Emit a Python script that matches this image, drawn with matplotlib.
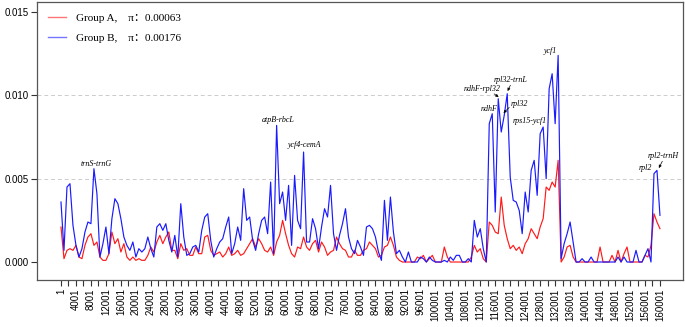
import matplotlib
matplotlib.use("Agg")
import matplotlib.pyplot as plt
from matplotlib.lines import Line2D
import numpy as np

plt.rcParams["font.family"] = ["Liberation Sans", "DejaVu Sans"]

# sliding windows (window start, bp), step 800
window_step = 800
windows = np.arange(1, 160002, window_step)

# nucleotide diversity, Group B (blue)
pi_group_b = [
    0.0036, 0.0007, 0.0045, 0.0047, 0.0022, 0.0010, 0.0003, 0.0008, 0.0018, 0.0024,
    0.0023, 0.0056, 0.0041, 0.0003, 0.0011, 0.0021, 0.0005, 0.0026, 0.0038, 0.0035,
    0.0026, 0.0015, 0.0010, 0.0007, 0.0012, 0.0003, 0.0008, 0.0006, 0.0008, 0.0015,
    0.0008, 0.0003, 0.0021, 0.0023, 0.0019, 0.0023, 0.0013, 0.0006, 0.0016, 0.0003,
    0.0035, 0.0015, 0.0004, 0.0005,
    0.0009, 0.0010, 0.0006, 0.0019, 0.0027, 0.0029, 0.0013, 0.0003, 0.0008, 0.0012,
    0.0014, 0.0021, 0.0027, 0.0005, 0.0011, 0.0021, 0.0013, 0.0044, 0.0025, 0.0027,
    0.0013, 0.0007, 0.0017, 0.0025, 0.0027, 0.0017, 0.0048, 0.0005, 0.0082, 0.0035,
    0.0042, 0.0025, 0.0046, 0.0010, 0.0052, 0.0025, 0.0020, 0.0066, 0.0012, 0.0012,
    0.0026, 0.0020, 0.0008,
    0.0021, 0.0032, 0.0027, 0.0046, 0.0017, 0.0007, 0.0016, 0.0023, 0.0032, 0.0015,
    0.0008, 0.0005, 0.0013, 0.0009, 0.0004, 0.0021, 0.0022, 0.0020, 0.0015, 0.0006,
    0.0001, 0.0037, 0.0013, 0.0039, 0.0018, 0.0005, 0.0007, 0.0003, 0.0000, 0.0006,
    0.0000, 0.0000, 0.0000, 0.0003, 0.0002, 0.0000, 0.0003, 0.0001, 0.0000, 0.0000,
    0.0000, 0.0001, 0.0000,
    0.0003, 0.0001, 0.0004, 0.0004, 0.0000, 0.0000, 0.0002, 0.0000, 0.0025, 0.0015,
    0.0020, 0.0008, 0.0000, 0.0083, 0.0089, 0.0030, 0.0098, 0.0078, 0.0088, 0.0101,
    0.0051, 0.0037, 0.0036, 0.0031, 0.0017, 0.0042, 0.0030, 0.0055, 0.0061, 0.0040,
    0.0077, 0.0081, 0.0050, 0.0104, 0.0113, 0.0083, 0.0124, 0.0002, 0.0011, 0.0017,
    0.0024, 0.0012, 0.0000, 0.0000, 0.0002, 0.0000, 0.0000, 0.0003, 0.0000, 0.0000,
    0.0000, 0.0000, 0.0000, 0.0000, 0.0000, 0.0000, 0.0003, 0.0000, 0.0003, 0.0000,
    0.0000, 0.0000, 0.0007, 0.0000, 0.0000, 0.0004, 0.0008, 0.0000, 0.0053, 0.0055,
    0.0028,
]

# nucleotide diversity, Group A (red)
pi_group_a = [
    0.0021, 0.0002, 0.0007, 0.0008, 0.0007, 0.0010, 0.0003, 0.0002, 0.0010, 0.0015,
    0.0017, 0.0010, 0.0012, 0.0003, 0.0001, 0.0001, 0.0005, 0.0018, 0.0011, 0.0014,
    0.0006, 0.0011, 0.0003, 0.0001, 0.0003, 0.0001, 0.0002, 0.0001, 0.0001, 0.0004,
    0.0009, 0.0006, 0.0012, 0.0016, 0.0011, 0.0015, 0.0018, 0.0007, 0.0007, 0.0002,
    0.0011, 0.0007, 0.0008, 0.0004,
    0.0004, 0.0009, 0.0005, 0.0005, 0.0015, 0.0016, 0.0007, 0.0004, 0.0005, 0.0006,
    0.0003, 0.0005, 0.0009, 0.0004, 0.0005, 0.0007, 0.0004, 0.0005, 0.0008, 0.0011,
    0.0014, 0.0009, 0.0014, 0.0011, 0.0007, 0.0006, 0.0009, 0.0004, 0.0012, 0.0016,
    0.0025, 0.0017, 0.0010, 0.0005, 0.0003, 0.0009, 0.0008, 0.0015, 0.0009, 0.0007,
    0.0011, 0.0013, 0.0006,
    0.0012, 0.0009, 0.0004, 0.0006, 0.0007, 0.0015, 0.0011, 0.0008, 0.0007, 0.0003,
    0.0003, 0.0007, 0.0004, 0.0004, 0.0007, 0.0008, 0.0012, 0.0010, 0.0008, 0.0003,
    0.0004, 0.0009, 0.0010, 0.0015, 0.0010, 0.0003, 0.0001, 0.0000, 0.0000, 0.0000,
    0.0000, 0.0000, 0.0003, 0.0002, 0.0004, 0.0000, 0.0002, 0.0004, 0.0000, 0.0000,
    0.0000, 0.0009, 0.0003,
    0.0000, 0.0000, 0.0000, 0.0000, 0.0000, 0.0000, 0.0000, 0.0003, 0.0010, 0.0006,
    0.0008, 0.0002, 0.0000, 0.0024, 0.0022, 0.0018, 0.0017, 0.0039, 0.0022, 0.0014,
    0.0008, 0.0010, 0.0007, 0.0009, 0.0005, 0.0011, 0.0014, 0.0020, 0.0017, 0.0014,
    0.0021, 0.0026, 0.0045, 0.0043, 0.0048, 0.0045, 0.0061, 0.0000, 0.0003, 0.0009,
    0.0010, 0.0003, 0.0000, 0.0000, 0.0000, 0.0000, 0.0000, 0.0000, 0.0000, 0.0000,
    0.0009, 0.0000, 0.0000, 0.0000, 0.0004, 0.0000, 0.0007, 0.0000, 0.0005, 0.0009,
    0.0000, 0.0000, 0.0000, 0.0000, 0.0000, 0.0004, 0.0003, 0.0010, 0.0029, 0.0024,
    0.0020,
]

legend_labels = ["Group A,    π：0.00063", "Group B,    π：0.00176"]

# hotspot labels: (text, text x, text y, arrow target or None, arrow start on text)
hotspots = [
    ("trnS-trnG", 9350, 0.00588, None, None),
    ("atpB-rbcL", 57960, 0.00852, None, None),
    ("ycf4-cemA", 64900, 0.00702, None, None),
    ("ndhF", 114320, 0.00918, None, None),
    ("ndhF-rpl32", 112450, 0.01038, (116900, 0.0099), (0.8, 0.0)),
    ("rpl32-trnL", 120200, 0.01092, (119300, 0.01026), (0.5, 0.0)),
    ("rpl32", 122330, 0.00948, (118200, 0.00894), (0.0, 0.2)),
    ("rps15-ycf1", 125270, 0.00846, None, None),
    ("ycf1", 130610, 0.01266, None, None),
    ("rpl2-trnH", 160800, 0.00636, (159700, 0.00564), (0.5, 0.0)),
    ("rpl2", 156000, 0.00564, None, None),
]

fig = plt.figure(figsize=(6.85, 3.27), dpi=100)
ax = fig.add_axes([0.054, 0.1437, 0.943, 0.850])

red = "#ff1a1a"
blue = "#1a1aff"
ax.plot(windows, pi_group_a, color=red, lw=0.85)
ax.plot(windows, pi_group_b, color=blue, lw=0.85)

for yv in (0.005, 0.010):
    ax.axhline(yv, color="#cccccc", lw=0.7, ls=(0, (4, 3)), zorder=0)

ax.set_xlim(-6410, 166140)
ax.set_ylim(-0.00108, 0.0156)

xt = np.arange(1, 160002, 2000)
ax.set_xticks(xt)
ax.set_xticklabels([str(v) if (v - 1) % 4000 == 0 else "" for v in xt],
                   rotation=90, fontsize=7)
ax.set_yticks([0.0, 0.005, 0.010, 0.015])
ax.set_yticklabels(["0.000", "0.005", "0.010", "0.015"], fontsize=7)
ax.tick_params(axis="x", length=4, width=0.8, color="#333333", pad=2)
ax.tick_params(axis="y", length=4, width=0.8, color="#333333", pad=2)

for sp in ax.spines.values():
    sp.set_color("#555555")
    sp.set_linewidth(0.9)

for label, tx, ty, target, rel in hotspots:
    if target is None:
        ax.text(tx, ty, label, ha="center", va="center", fontsize=5.8,
                style="italic", family="Liberation Serif")
    else:
        ax.annotate(label, xy=target, xytext=(tx, ty), ha="center", va="center",
                    fontsize=5.8, style="italic", family="Liberation Serif",
                    arrowprops=dict(arrowstyle="-|>", color="black", lw=0.5,
                                    mutation_scale=4, shrinkA=1, shrinkB=0,
                                    relpos=rel, patchA=None))

handles = [Line2D([], [], color=red, lw=1.0, alpha=0.6),
           Line2D([], [], color=blue, lw=1.0, alpha=0.6)]
ax.legend(handles, legend_labels, loc="upper left", bbox_to_anchor=(0.0, 1.0),
          frameon=False, handlelength=1.6, handletextpad=0.9, labelspacing=0.95,
          borderaxespad=0.6,
          prop=dict(family=["Liberation Serif", "Noto Sans CJK SC"], size=8))

fig.savefig("out.png", dpi=100)
